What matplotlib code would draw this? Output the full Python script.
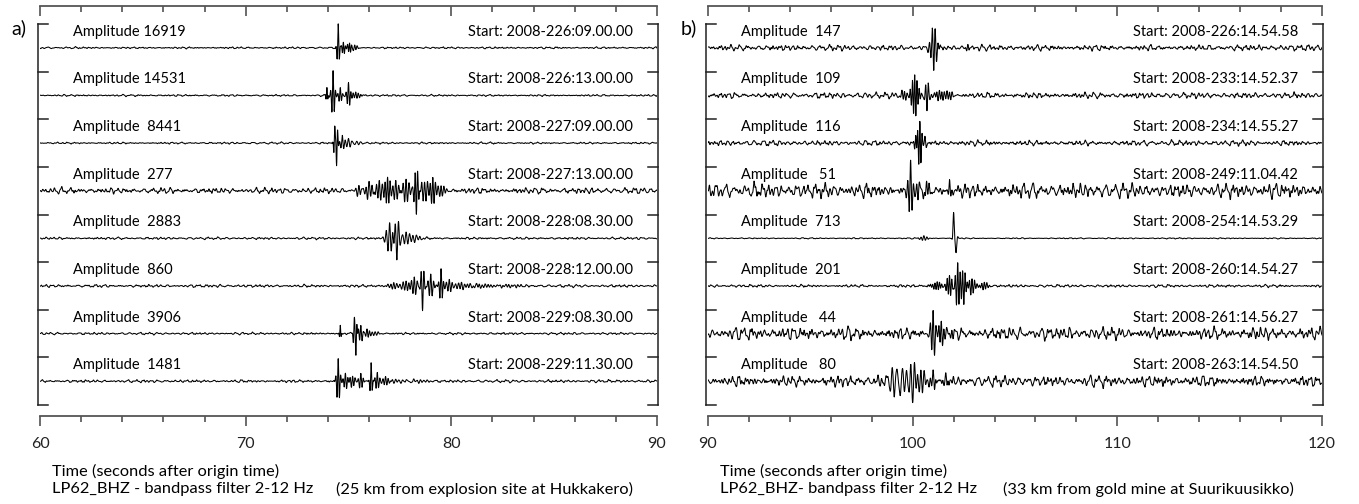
import numpy as np
import matplotlib
matplotlib.use("Agg")
import matplotlib.pyplot as plt
from matplotlib.ticker import MultipleLocator

plt.rcParams['font.family'] = ['Lato', 'DejaVu Sans']

# ---------------- data ----------------
a_amp_labels = ["Amplitude 16919", "Amplitude 14531", "Amplitude  8441", "Amplitude  277",
                "Amplitude  2883", "Amplitude  860", "Amplitude  3906", "Amplitude  1481"]
a_start_labels = ["Start: 2008-226:09.00.00", "Start: 2008-226:13.00.00", "Start: 2008-227:09.00.00",
                  "Start: 2008-227:13.00.00", "Start: 2008-228:08.30.00", "Start: 2008-228:12.00.00",
                  "Start: 2008-229:08.30.00", "Start: 2008-229:11.30.00"]
b_amp_labels = ["Amplitude  147", "Amplitude  109", "Amplitude  116", "Amplitude   51",
                "Amplitude  713", "Amplitude  201", "Amplitude   44", "Amplitude   80"]
b_start_labels = ["Start: 2008-226:14.54.58", "Start: 2008-233:14.52.37", "Start: 2008-234:14.55.27",
                  "Start: 2008-249:11.04.42", "Start: 2008-254:14.53.29", "Start: 2008-260:14.54.27",
                  "Start: 2008-261:14.56.27", "Start: 2008-263:14.54.50"]

# background noise level of each trace (fraction of trace spacing)
a_noise = [0.008, 0.008, 0.008, 0.025, 0.010, 0.012, 0.010, 0.012]
b_noise = [0.025, 0.025, 0.023, 0.062, 0.005, 0.012, 0.052, 0.046]

# wave packets of each trace: (time s, amplitude [fraction of trace spacing, +up], freq Hz, half-width s)
a_packets = [
    [(74.50, 0.50, 8, 0.07), (74.75, 0.12, 10, 0.10), (75.05, 0.10, 10, 0.12), (75.30, 0.06, 8, 0.15)],
    [(73.95, 0.16, 10, 0.06), (74.25, 0.50, 8, 0.10), (74.60, 0.16, 8, 0.10), (75.00, 0.27, 8, 0.10),
     (75.35, 0.06, 8, 0.30)],
    [(74.33, 0.38, 10, 0.06), (74.42, -0.50, 9, 0.07), (74.70, 0.15, 7, 0.12), (75.00, 0.10, 6, 0.15),
     (75.40, 0.04, 5, 0.20)],
    [(75.50, 0.10, 7, 0.20), (76.00, 0.16, 7, 0.25), (76.50, 0.21, 7, 0.20), (76.90, 0.31, 8, 0.15),
     (77.30, 0.21, 7, 0.20), (77.80, 0.25, 7, 0.20), (78.30, -0.50, 8, 0.12), (78.70, 0.21, 7, 0.20),
     (79.10, 0.29, 8, 0.15), (79.50, 0.12, 7, 0.20)],
    [(77.00, 0.32, 6, 0.20), (77.35, -0.46, 6, 0.15), (77.80, 0.12, 6, 0.25), (78.30, 0.06, 6, 0.30)],
    [(77.20, 0.06, 7, 0.30), (77.80, 0.12, 7, 0.20), (78.20, 0.21, 7, 0.15), (78.60, -0.50, 7, 0.10),
     (79.00, 0.25, 7, 0.15), (79.50, 0.36, 8, 0.10), (79.90, 0.12, 7, 0.20), (80.50, 0.06, 7, 0.40),
     (81.50, 0.04, 7, 0.50), (82.80, 0.03, 7, 0.50)],
    [(74.60, 0.17, 10, 0.05), (75.28, 0.34, 9, 0.06), (75.36, -0.46, 9, 0.06), (75.60, 0.17, 8, 0.15),
     (75.90, 0.10, 8, 0.15), (76.30, 0.04, 7, 0.20)],
    [(74.50, 0.50, 8, 0.10), (74.85, 0.17, 8, 0.12), (75.20, 0.12, 8, 0.15), (75.60, 0.17, 8, 0.12),
     (76.10, 0.40, 8, 0.07), (76.40, 0.19, 8, 0.12), (76.80, 0.08, 8, 0.20), (77.30, 0.04, 6, 0.30),
     (78.50, 0.03, 6, 0.40)],
]
b_packets = [
    [(101.03, -0.48, 7, 0.18), (102.70, 0.08, 8, 0.10)],
    [(99.60, 0.10, 8, 0.20), (100.10, 0.44, 9, 0.20), (100.70, -0.38, 7, 0.10), (101.30, 0.10, 8, 0.25),
     (101.80, 0.08, 8, 0.20)],
    [(100.15, 0.12, 9, 0.10), (100.35, 0.48, 9, 0.12), (100.60, 0.12, 8, 0.10)],
    [(99.90, 0.50, 7, 0.15), (100.20, 0.17, 7, 0.15), (100.80, 0.10, 8, 0.20), (101.80, 0.17, 8, 0.08)],
    [(100.55, 0.05, 7, 0.20), (102.00, 0.52, 4, 0.05), (102.12, -0.30, 4, 0.07)],
    [(101.20, 0.08, 9, 0.30), (101.80, 0.21, 9, 0.20), (102.20, 0.48, 8, 0.15), (102.50, -0.38, 8, 0.12),
     (102.90, 0.17, 8, 0.20), (103.50, 0.08, 8, 0.20)],
    [(101.00, 0.48, 7, 0.15), (101.40, 0.21, 8, 0.15), (101.80, 0.10, 8, 0.15)],
    [(98.50, 0.10, 5, 0.25), (99.00, 0.31, 4.5, 0.25), (99.50, 0.38, 4.5, 0.20), (100.00, -0.50, 5, 0.15),
     (100.40, 0.29, 6, 0.20), (101.00, 0.15, 7, 0.20), (101.60, 0.10, 7, 0.20)],
]

a_range = (60, 90)
b_range = (90, 120)
a_xlabel = ["Time (seconds after origin time)", "LP62_BHZ - bandpass filter 2-12 Hz",
            "(25 km from explosion site at Hukkakero)"]
b_xlabel = ["Time (seconds after origin time)", "LP62_BHZ- bandpass filter 2-12 Hz",
            "(33 km from gold mine at Suurikuusikko)"]

# ---------------- figure ----------------
W, H = 1359, 504
fig = plt.figure(figsize=(W / 100, H / 100), dpi=100)

TOP_PX, BOT_PX = 6, 416
FRAME_TOP, FRAME_BOT = 24, 405
SP = (FRAME_BOT - FRAME_TOP) / 8.0
y_top = -0.5 - (FRAME_TOP - TOP_PX) / SP
y_bot = 7.5 + (BOT_PX - FRAME_BOT) / SP


def trace(t, packets, noise, k):
    # band-limited (2-12 Hz) background built from fixed sinusoids with spread phases
    n = np.zeros_like(t)
    for j in range(1, 181):
        f = 2 + 10 * ((j * 0.6180339887 + 0.3819660113 * k) % 1)
        ph = 2 * np.pi * ((j * j * 0.7548776662 + j * k * 0.5698402910 + k * 0.1234) % 1)
        n += np.sin(2 * np.pi * f * t + ph) / f
    n = n / n.std() * noise
    s = np.zeros_like(t)
    for (tc, A, f, w) in packets:
        s += A * np.exp(-((t - tc) / w) ** 2) * np.cos(2 * np.pi * f * (t - tc))
    return n + s


def panel(x0_px, x1_px, xr, amp_labels, start_labels, packets, noises, letter, letter_x, xl, seed):
    ax = fig.add_axes([x0_px / W, 1 - BOT_PX / H, (x1_px - x0_px) / W, (BOT_PX - TOP_PX) / H])
    ax.set_xlim(*xr)
    ax.set_ylim(y_bot, y_top)
    pxs = (xr[1] - xr[0]) / (x1_px - x0_px)
    t = np.arange(xr[0], xr[1] + 1e-9, 0.01)
    for i in range(8):
        y = trace(t, packets[i], noises[i], seed + i)
        ax.plot(t, i - y, color='black', lw=0.75)
        ax.text(xr[0] + 33 * pxs, i - 16 / SP, amp_labels[i], fontsize=10.5, va='center', ha='left')
        ax.text(xr[1] - 24 * pxs, i - 16 / SP, start_labels[i], fontsize=10.5, va='center', ha='right')
    # trace frame
    fl = xr[0] - 2 * pxs
    fr = xr[1] + 1 * pxs
    fc = '#222222'
    ax.plot([fl, fl], [-0.5, 7.5], color=fc, lw=1.1, clip_on=False)
    ax.plot([fr, fr], [-0.5, 7.5], color=fc, lw=1.1, clip_on=False)
    for k in range(9):
        yk = -0.5 + k
        ax.plot([fl, fl + 10 * pxs], [yk, yk], color=fc, lw=1.1, clip_on=False)
        ax.plot([fr - 10 * pxs, fr], [yk, yk], color=fc, lw=1.1, clip_on=False)
    # axes lines
    for side in ['left', 'right']:
        ax.spines[side].set_visible(False)
    for side in ['top', 'bottom']:
        ax.spines[side].set_color('#555555')
        ax.spines[side].set_linewidth(1.3)
    ax.set_yticks([])
    ax.xaxis.set_major_locator(MultipleLocator(10))
    ax.xaxis.set_minor_locator(MultipleLocator(2))
    ax.tick_params(axis='x', which='both', top=True, bottom=True, colors='#444444', width=1.1)
    ax.tick_params(axis='x', which='major', direction='out', length=7, labelsize=11.5, pad=8,
                   labelcolor='#222222')
    ax.tick_params(axis='x', which='minor', direction='out', length=4)
    # top ticks point downwards into the axes
    for tk in ax.xaxis.get_major_ticks():
        tk.tick2line.set_marker(matplotlib.lines.TICKDOWN)
        tk.tick2line.set_markersize(7)
    for tk in ax.xaxis.get_minor_ticks():
        tk.tick2line.set_marker(matplotlib.lines.TICKDOWN)
        tk.tick2line.set_markersize(4)
    fig.text(letter_x / W, 1 - 28 / H, letter, fontsize=14, ha='center', va='center')
    fig.text((x0_px + 12) / W, 1 - 471 / H, xl[0], fontsize=11.8, va='center', ha='left')
    fig.text((x0_px + 12) / W, 1 - 489 / H, xl[1], fontsize=11.8, va='center', ha='left')
    return ax


panel(40, 657, a_range, a_amp_labels, a_start_labels, a_packets, a_noise, "a)", 19, a_xlabel, 0)
fig.text(336 / W, 1 - 489 / H, a_xlabel[2], fontsize=11.8, va='center', ha='left')
panel(708, 1322, b_range, b_amp_labels, b_start_labels, b_packets, b_noise, "b)", 689, b_xlabel, 20)
fig.text(1003 / W, 1 - 489 / H, b_xlabel[2], fontsize=11.8, va='center', ha='left')

fig.savefig("out.png", dpi=100)
